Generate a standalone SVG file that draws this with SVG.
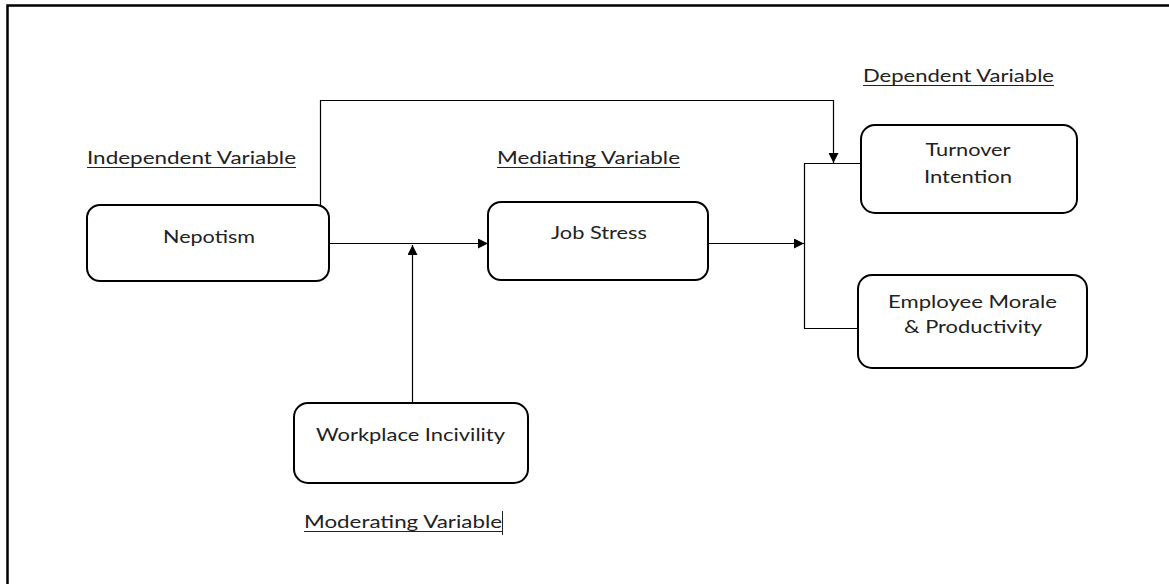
<svg xmlns="http://www.w3.org/2000/svg" width="1169" height="584" viewBox="0 0 1169 584">
<style>
.box{fill:#fff;stroke:#000;stroke-width:2}
.t{font-family:Lato,"Liberation Sans",sans-serif;font-size:17px;fill:#222;text-anchor:middle}
.h{font-family:Lato,"Liberation Sans",sans-serif;font-size:17px;fill:#222}
.ul{stroke:#222;stroke-width:1}
.c{fill:none;stroke:#000;stroke-width:1.2}
</style>
<defs>
<marker id="arr" viewBox="0 0 10 10" refX="10" refY="5" markerWidth="10" markerHeight="10" markerUnits="userSpaceOnUse" orient="auto">
<path d="M0,0 L10,5 L0,10 Z" fill="#000"/>
</marker>
</defs>
<rect width="1169" height="584" fill="#fff"/>
<path d="M7.5,584 V5.5 H1169" fill="none" stroke="#000" stroke-width="2.5"/>
<g id="labels">
<text class="h" x="87" y="164" textLength="209" lengthAdjust="spacingAndGlyphs">Independent Variable</text>
<line class="ul" x1="87" y1="167.5" x2="296" y2="167.5"/>
<text class="h" x="497" y="164" textLength="183" lengthAdjust="spacingAndGlyphs">Mediating Variable</text>
<line class="ul" x1="497" y1="167.5" x2="680" y2="167.5"/>
<text class="h" x="863" y="82" textLength="191" lengthAdjust="spacingAndGlyphs">Dependent Variable</text>
<line class="ul" x1="863" y1="85.5" x2="1054" y2="85.5"/>
<text class="h" x="304" y="528" textLength="198" lengthAdjust="spacingAndGlyphs">Moderating Variable</text>
<line class="ul" x1="304" y1="531.5" x2="502" y2="531.5"/>
<line class="ul" x1="502.5" y1="511" x2="502.5" y2="535"/>
</g>
<g id="connectors">
<path class="c" d="M320.5,205 V100.5 H833.5 V163" marker-end="url(#arr)"/>
<path class="c" d="M861,163.5 H804.5 V328.5 H858"/>
<path class="c" d="M329,243.5 H488" marker-end="url(#arr)"/>
<path class="c" d="M412.5,403 V245" marker-end="url(#arr)"/>
<path class="c" d="M708,243.5 H804" marker-end="url(#arr)"/>
</g>
<g id="nepotism">
<rect class="box" x="87" y="205" width="242" height="76" rx="13"/>
<text class="t" x="209" y="243" textLength="92" lengthAdjust="spacingAndGlyphs">Nepotism</text>
</g>
<g id="job-stress">
<rect class="box" x="488" y="202" width="220" height="78" rx="13"/>
<text class="t" x="599" y="239" textLength="96" lengthAdjust="spacingAndGlyphs">Job Stress</text>
</g>
<g id="turnover-intention">
<rect class="box" x="861" y="125" width="216" height="88" rx="14"/>
<text class="t" x="968" y="156" textLength="85" lengthAdjust="spacingAndGlyphs">Turnover</text>
<text class="t" x="968" y="183" textLength="88" lengthAdjust="spacingAndGlyphs">Intention</text>
</g>
<g id="employee-morale">
<rect class="box" x="858" y="275" width="229" height="93" rx="14"/>
<text class="t" x="972.5" y="308" textLength="169" lengthAdjust="spacingAndGlyphs">Employee Morale</text>
<text class="t" x="973" y="333" textLength="138" lengthAdjust="spacingAndGlyphs">&amp; Productivity</text>
</g>
<g id="workplace-incivility">
<rect class="box" x="294" y="403" width="234" height="80" rx="14"/>
<text class="t" x="410.5" y="441" textLength="189" lengthAdjust="spacingAndGlyphs">Workplace Incivility</text>
</g>
</svg>
